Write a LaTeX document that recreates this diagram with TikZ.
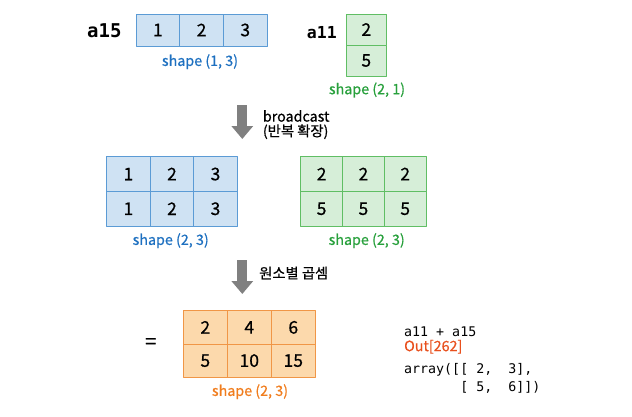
\documentclass[tikz,border=0pt]{standalone}
\usepackage{fontspec}
\setmainfont{Noto Sans CJK KR}[FakeBold=0.6]
\newfontfamily\codefont{DejaVu Sans Mono}
\usetikzlibrary{arrows.meta}
\definecolor{bfill}{RGB}{207,226,243}
\definecolor{bline}{RGB}{91,155,213}
\definecolor{btext}{RGB}{30,112,192}
\definecolor{gfill}{RGB}{214,238,216}
\definecolor{gline}{RGB}{96,190,100}
\definecolor{gtext}{RGB}{40,160,60}
\definecolor{ofill}{RGB}{252,217,172}
\definecolor{oline}{RGB}{240,150,70}
\definecolor{otext}{RGB}{240,125,30}
\definecolor{outred}{RGB}{232,80,30}
\definecolor{arrgray}{RGB}{128,128,128}
\begin{document}
\begin{tikzpicture}[x=1pt,y=-1pt,line join=round,
  cell/.style={draw,line width=0.8pt,inner sep=0pt,font=\fontsize{17.5}{17.5}\selectfont},
  cellb/.style={cell,draw=bline,fill=bfill},
  cellg/.style={cell,draw=gline,fill=gfill},
  cello/.style={cell,draw=oline,fill=ofill,minimum width=44pt,minimum height=33.3pt},
  lbl/.style={font=\fontsize{14.3}{14.3}\selectfont,inner sep=0pt},
  code/.style={font=\codefont\fontsize{13.3}{13.3}\selectfont,anchor=west,inner sep=0pt},
  bigarr/.style={draw=arrgray,line width=10pt,-{Triangle[width=21pt,length=13pt]}}]
\useasboundingbox (0,0) rectangle (632,416);
% a15
\node[font={\codefont\bfseries\fontsize{19}{19}\selectfont}] (na15) at (104.3,31) {a15};
\foreach \v [count=\i] in {1,2,3}
  \node[cellb,minimum width=43.7pt,minimum height=32pt] (a15c\i) at ({136+43.7*(\i-0.5)},30) {\v};
\node[lbl,text=btext] (sa15) at (200,61.7) {shape (1, 3)};
% a11
\node[font={\codefont\bfseries\fontsize{16.5}{16.5}\selectfont}] (na11) at (321.8,33) {a11};
\foreach \v [count=\r] in {2,5}
  \node[cellg,minimum width=40.7pt,minimum height=31pt] (a11c\r) at (366.3,{14+31*(\r-0.5)}) {\v};
\node[lbl,text=gtext] (sa11) at (367,90) {shape (2, 1)};
% broadcast
\coordinate (ar1s) at (242.3,105);
\coordinate (ar1e) at (242.3,139);
\draw[bigarr] (ar1s) -- (ar1e);
\node[lbl,anchor=west] (tb1) at (262.7,116) {broadcast};
\node[lbl,anchor=west] (tb2) at (262.7,131.7) {(반복 확장)};
% a15 repeated
\foreach \r in {1,2}
  \foreach \v [count=\i] in {1,2,3}
    \node[cellb,minimum width=43.5pt,minimum height=34.7pt] (mb\r\i) at ({106.7+43.5*(\i-0.5)},{156.7+34.7*(\r-0.5)}) {\v};
\node[lbl,text=btext] (smb) at (170.7,240.7) {shape (2, 3)};
% a11 repeated
\foreach \v [count=\r] in {2,5}
  \foreach \i in {1,2,3}
    \node[cellg,minimum width=41.8pt,minimum height=34.7pt] (mg\r\i) at ({300.7+41.8*(\i-0.5)},{156.7+34.7*(\r-0.5)}) {\v};
\node[lbl,text=gtext] (smg) at (366.7,240.7) {shape (2, 3)};
% multiply
\coordinate (ar2s) at (242.3,260);
\coordinate (ar2e) at (242.3,294);
\draw[bigarr] (ar2s) -- (ar2e);
\node[lbl,anchor=west] (tm) at (259,273) {원소별 곱셈};
% result
\node[font=\fontsize{20}{20}\selectfont] (eq) at (150.7,343.3) {=};
\foreach \row [count=\r] in {{2,4,6},{5,10,15}}
  \foreach \v [count=\i] in \row
    \node[cello] (res\r\i) at ({183.3+44*(\i-0.5)},{310.7+33.3*(\r-0.5)}) {\v};
\node[lbl,text=otext] (sres) at (250,391.7) {shape (2, 3)};
% code
\node[code] (c1) at (404,331.7) {a11 + a15};
\node[lbl,anchor=west,text=outred] (c2) at (404,346.7) {Out[262]};
\node[code] (c3) at (404,370) {array([[~2,~~3],};
\node[code] (c4) at (404,387.3) {~~~~~~~[~5,~~6]])};
\end{tikzpicture}
\end{document}
